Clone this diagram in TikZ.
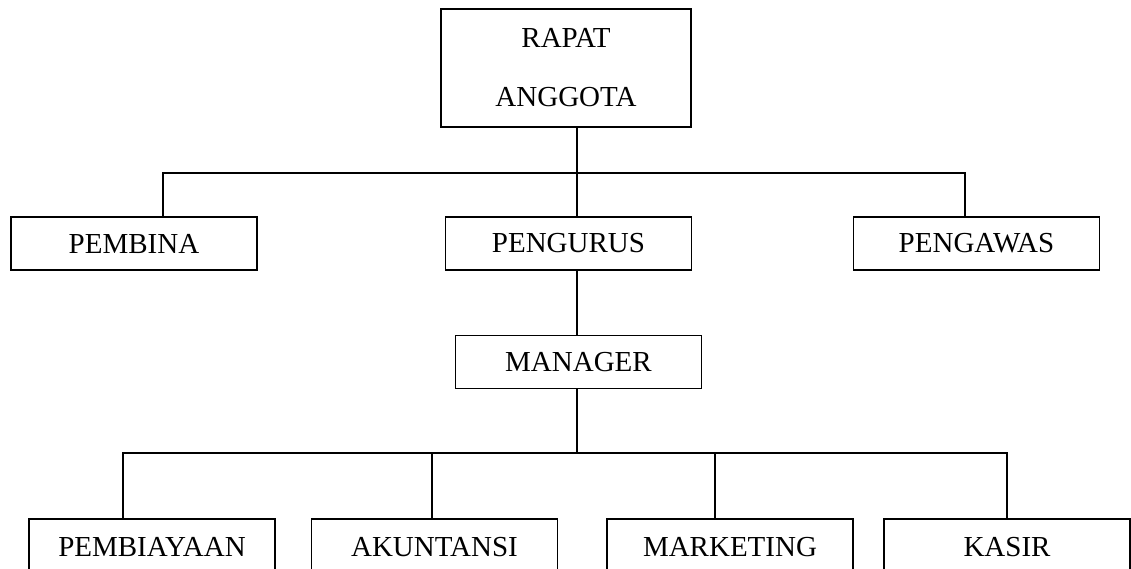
\documentclass[tikz,border=0pt]{standalone}
\usepackage{fontspec}
\setmainfont{Liberation Serif}
\begin{document}
\begin{tikzpicture}[x=1pt,y=-1pt,
  unit/.style={draw=black, line width=1.1pt, inner sep=0pt, minimum width=246pt, minimum height=53pt, font=\fontsize{29}{35}\selectfont},
  lowunit/.style={unit, minimum height=56pt},
  link/.style={draw=black, line width=1.1pt}]
\clip (0,0) rectangle (1131,569);
\node[unit, minimum width=250pt, minimum height=118pt, align=center, font=\fontsize{29}{59}\selectfont] (rapat) at (566,68) {RAPAT\\ANGGOTA};
\node[unit] (pembina) at (134,243.5) {PEMBINA};
\node[unit] (pengurus) at (568.5,243.5) {PENGURUS};
\node[unit] (pengawas) at (976.5,243.5) {PENGAWAS};
\node[unit] (manager) at (578.5,362) {MANAGER};
\node[lowunit] (pembiayaan) at (152,547) {PEMBIAYAAN};
\node[lowunit] (akuntansi) at (434.5,547) {AKUNTANSI};
\node[lowunit] (marketing) at (730,547) {MARKETING};
\node[lowunit] (kasir) at (1007,547) {KASIR};
% upper bus
\coordinate (uL) at (163,173);
\coordinate (uM) at (577,173);
\coordinate (uR) at (965,173);
\draw[link] (rapat.south -| uM) -- (pengurus.north -| uM);
\draw[link] (pembina.north -| uL) -- (uL) -- (uR) -- (pengawas.north -| uR);
\draw[link] (pengurus.south -| uM) -- (manager.north -| uM);
% lower bus
\coordinate (lM) at (577,453);
\coordinate (l1) at (123,453);
\coordinate (l2) at (432,453);
\coordinate (l3) at (715,453);
\coordinate (l4) at (1007,453);
\draw[link] (manager.south -| lM) -- (lM);
\draw[link] (pembiayaan.north -| l1) -- (l1) -- (l4) -- (kasir.north -| l4);
\draw[link] (akuntansi.north -| l2) -- (l2);
\draw[link] (marketing.north -| l3) -- (l3);
\end{tikzpicture}
\end{document}
